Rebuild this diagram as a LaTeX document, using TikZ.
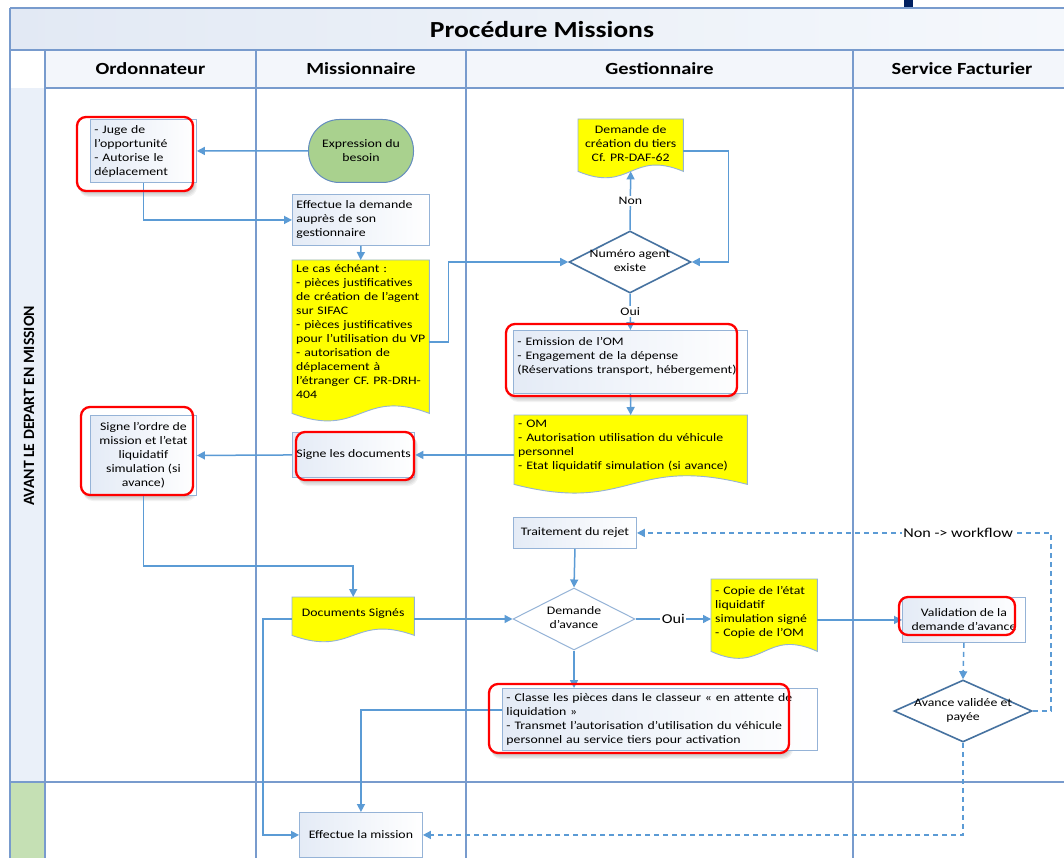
\documentclass[tikz,border=0pt]{standalone}
\usepackage{fontspec}
\setmainfont{Carlito}[FakeStretch=1.2]
\newfontfamily\bandfont{Carlito}
\usetikzlibrary{arrows.meta,shapes.geometric,calc}

\definecolor{lanec}{RGB}{120,155,205}
\definecolor{connc}{RGB}{91,155,213}
\definecolor{boxc}{RGB}{149,179,215}
\definecolor{darkdia}{RGB}{70,114,160}
\definecolor{titleL}{RGB}{226,233,244}
\definecolor{titleR}{RGB}{245,248,252}
\definecolor{headfill}{RGB}{243,246,251}
\definecolor{bandfill}{RGB}{234,240,249}
\definecolor{bandgreen}{RGB}{197,224,180}
\definecolor{navyc}{RGB}{0,32,96}
\definecolor{greenfill}{RGB}{169,209,142}
\definecolor{greenedge}{RGB}{100,140,190}
\definecolor{boxtint}{RGB}{228,235,246}
\definecolor{docyellow}{RGB}{255,255,0}

\newcommand\bodyfont{\fontsize{11.5pt}{14pt}\selectfont}
\newcommand\headfont{\fontsize{17pt}{20pt}\selectfont\bfseries}
% text inside a diamond that does not enlarge the shape
\newcommand\dtext[1]{\raisebox{-3pt}[0pt][0pt]{\makebox[0pt]{\begin{tabular}{@{}c@{}}#1\end{tabular}}}}
% document symbol: flat top, wavy bottom below the node's south edge
\newcommand\docshape[3]{%
  \path[docst] (#1.north west) -- (#1.north east) -- ($(#1.south east)+(0,#2)$)
    .. controls ($(#1.south)+(0,#2-#3)$) and ($(#1.south)+(0,#2+#3)$) .. ($(#1.south west)+(0,#2)$) -- cycle;}
% soft drop shadow and white ground under a highlight frame
\newcommand\hlground[4]{%
  \foreach \s in {1,...,5}{%
    \fill[black,opacity=0.05,rounded corners=10pt]
      (#1+0.4*\s,#2+0.8*\s) rectangle (#3+0.8*\s,#4+1.2*\s);}
  \fill[white,rounded corners=9pt] (#1,#2) rectangle (#3,#4);}

\pgfdeclarelayer{bg}
\pgfdeclarelayer{shade}
\pgfdeclarelayer{front}
\pgfsetlayers{bg,shade,main,front}

\begin{document}
\begin{tikzpicture}[x=1pt,y=-1pt,
  lane/.style={draw=lanec,line width=1.1pt},
  box/.style={draw=boxc,line width=0.9pt,left color=boxtint,right color=white,
    inner xsep=4pt,inner ysep=2pt,font=\bodyfont,anchor=north west},
  lbox/.style={box,align=left},
  cbox/.style={box,align=center},
  doc/.style={inner xsep=4pt,inner ysep=2pt,font=\bodyfont,anchor=north west},
  docst/.style={fill=docyellow,draw=boxc,line width=0.9pt},
  dia/.style={diamond,inner sep=0pt,fill=white,font=\bodyfont},
  diadark/.style={dia,draw=darkdia,line width=1.6pt},
  dialight/.style={dia,draw=boxc,line width=1pt},
  term/.style={rectangle,rounded corners=31pt,fill=greenfill,draw=greenedge,line width=1pt,
    font=\bodyfont,align=center,anchor=north west,minimum width=105pt,minimum height=63pt},
  head/.style={font=\headfont},
  conn/.style={draw=connc,line width=1.5pt,-{Triangle[length=8pt,width=8pt]}},
  dconn/.style={conn,dash pattern=on 5pt off 4pt},
  lbl/.style={fill=white,inner sep=1.5pt,font=\bodyfont},
  lblbig/.style={fill=white,inner sep=1.5pt,font=\fontsize{13.5pt}{16pt}\selectfont},
  hl/.style={draw=red,line width=2.3pt,rounded corners=9pt}
]
\useasboundingbox (0,0) rectangle (1064,858);

% swimlane frame
\begin{pgfonlayer}{bg}
  \fill[white] (0,0) rectangle (1064,858);
  \fill[navyc] (904,0) rectangle (913,9);
  \shade[left color=titleL,right color=titleR] (10,8) rectangle (1064,50);
  \fill[headfill] (45,50) rectangle (1064,88);
  \fill[bandfill] (10,88) rectangle (45,782);
  \fill[bandgreen] (10,782) rectangle (45,858);
  \draw[lane] (10,8) -- (1064,8);
  \draw[lane] (10,8) -- (10,858);
  \draw[lane] (10,50) -- (1064,50);
  \draw[lane] (45,50) -- (45,858);
  \draw[lane] (45,88) -- (1064,88);
  \draw[lane] (10,782) -- (1064,782);
  \draw[lane] (256,50) -- (256,858);
  \draw[lane] (466,50) -- (466,858);
  \draw[lane] (853,50) -- (853,858);
\end{pgfonlayer}

% titles
\node[font=\fontsize{23pt}{26pt}\selectfont\bfseries] (title) at (542,30) {Procédure Missions};
\node[head] (hOrd) at (150.5,69) {Ordonnateur};
\node[head] (hMis) at (361,69) {Missionnaire};
\node[head] (hGes) at (659.5,69) {Gestionnaire};
\node[head] (hSer) at (962,69) {Service Facturier};
\node[rotate=90,font=\bandfont\bfseries\fontsize{15.7pt}{18pt}\selectfont] (phase) at (29,406)
  {AVANT LE DEPART EN MISSION};

% Ordonnateur
\node[lbox,minimum width=106pt,minimum height=63pt,text width=98pt] (juge) at (90,119)
  {\mbox{- Juge de}\\\mbox{l’opportunité}\\\mbox{- Autorise le}\\\mbox{déplacement}};
\node[cbox,minimum width=106pt,minimum height=80pt] (sordre) at (90,415)
  {Signe l’ordre de\\mission et l’etat\\liquidatif\\simulation (si\\avance)};

% Missionnaire
\node[term] (expr) at (308,119) {Expression du\\besoin};
\node[lbox,minimum width=137pt,minimum height=51pt,text width=129pt] (eff) at (292,194)
  {\mbox{Effectue la demande}\\\mbox{auprès de son}\\\mbox{gestionnaire}};
\node[doc,align=left,minimum width=137pt,minimum height=142pt,text width=129pt] (lecas) at (292,260)
  {\mbox{Le cas échéant :}\\\mbox{- pièces justificatives}\\\mbox{de création de l’agent}\\\mbox{sur SIFAC}\\
   \mbox{- pièces justificatives}\\\mbox{pour l’utilisation du VP}\\\mbox{- autorisation de}\\
   \mbox{déplacement à}\\\mbox{l’étranger CF. PR-DRH-}\\\mbox{404}};
\node[cbox,minimum width=122pt,minimum height=45pt] (sdoc) at (292,432) {Signe les documents};
\node[doc,align=center,minimum width=122pt,minimum height=32pt] (dsig) at (292,597) {Documents Signés};
\node[cbox,minimum width=123pt,minimum height=45pt] (effm) at (299,812) {Effectue la mission};

% Gestionnaire
\node[doc,align=center,minimum width=105pt,minimum height=48pt] (demcre) at (578,119)
  {Demande de\\création du tiers\\Cf. PR-DAF-62};
\node[diadark,minimum width=122pt,minimum height=62pt] (numag) at (630,262) {\dtext{Numéro agent\\existe}};
\node[lbox,minimum width=234pt,minimum height=63pt,text width=226pt] (emis) at (513,330)
  {\mbox{- Emission de l’OM}\\\mbox{- Engagement de la dépense}\\\mbox{(Réservations transport, hébergement)}\\\mbox{}};
\node[doc,align=left,minimum width=233pt,minimum height=60pt,text width=225pt] (om) at (514,415)
  {\mbox{- OM}\\\mbox{- Autorisation utilisation du véhicule}\\\mbox{personnel}\\\mbox{- Etat liquidatif simulation (si avance)}};
\node[cbox,minimum width=123pt,minimum height=31pt] (trej) at (513,517) {Traitement du rejet};
\node[dialight,minimum width=122pt,minimum height=62pt] (davance) at (574,619) {\dtext{Demande\\d’avance}};
\node[doc,align=left,minimum width=106pt,minimum height=66pt,text width=98pt] (copie) at (711,579)
  {\mbox{- Copie de l’état}\\\mbox{liquidatif}\\\mbox{simulation signé}\\\mbox{- Copie de l’OM}};
\node[lbox,minimum width=315pt,minimum height=62pt,text width=307pt] (classe) at (502,688)
  {\mbox{- Classe les pièces dans le classeur «~en attente de}\\\mbox{liquidation~»}\\
   \mbox{- Transmet l’autorisation d’utilisation du véhicule}\\\mbox{personnel au service tiers pour activation}};

% Service Facturier
\node[cbox,minimum width=123pt,minimum height=45pt] (valid) at (902,597) {Validation de la\\demande d’avance};
\node[diadark,minimum width=138pt,minimum height=62pt] (avance) at (963,711) {\dtext{Avance validée et\\payée}};

% document symbols and highlight shadows
\begin{pgfonlayer}{shade}
  \hlground{77}{117}{193}{191}
  \hlground{81}{407}{193}{495}
  \hlground{296}{432}{414}{480}
  \hlground{506}{324}{737}{396}
  \hlground{489}{684}{789}{753}
  \hlground{899}{597}{1015}{635}
  \docshape{lecas}{11}{26}
  \docshape{demcre}{4}{22}
  \docshape{om}{9}{30}
  \docshape{copie}{6}{24}
  \docshape{dsig}{6}{22}
\end{pgfonlayer}

% red highlight frames
\begin{pgfonlayer}{front}
  \draw[hl] (77,117) rectangle (193,191);
  \draw[hl] (81,407) rectangle (193,495);
  \draw[hl] (296,432) rectangle (414,480);
  \draw[hl] (506,324) rectangle (737,396);
  \draw[hl] (489,684) rectangle (789,753);
  \draw[hl] (899,597) rectangle (1015,635);
\end{pgfonlayer}

% flow
\draw[conn] (expr.west) -- (juge.east);
\draw[conn] (juge.south) |- (eff.west);
\draw[conn] (eff.south) -- (lecas.north);
\draw[conn] ($(lecas.north east)+(0,82)$) -- ++(19,0) |- (numag.west);
\draw[conn] (numag.north) -- node[lbl]{Non} ($(demcre.south)+(0,4)$);
\draw[conn] ($(demcre.north east)+(0,32)$) -- ++(45,0) |- (numag.east);
\draw[conn] (numag.south) -- node[lbl]{Oui} (emis.north);
\draw[conn] (emis.south) -- (om.north);
\draw[conn] (om.west |- sdoc.east) -- (sdoc.east);
\draw[conn] (sdoc.west) -- (sordre.east);
\draw[conn] (sordre.south) -- ++(0,70) -| (dsig.north);
\draw[conn] (dsig.east |- davance.west) -- (davance.west);
\draw[conn] (dsig.west |- davance.west) -- ++(-29,0) |- (effm.west);
\draw[conn] (trej.south) -- (davance.north);
\draw[conn] (davance.east) -- node[lblbig]{Oui} (davance.east -| copie.west);
\draw[conn] (copie.east |- valid.west) -- (valid.west);
\draw[conn] (davance.south) -- (davance.south |- classe.north);
\draw[conn] ($(classe.north west)+(0,22)$) -| (effm.north);
\draw[dconn] (valid.south) -- (avance.north);
\draw[dconn] (avance.east) -- ++(18,0) |- node[pos=0.612,lblbig]{Non -> workflow} (trej.east);
\draw[dconn] (avance.south) |- (effm.east);
\end{tikzpicture}
\end{document}
